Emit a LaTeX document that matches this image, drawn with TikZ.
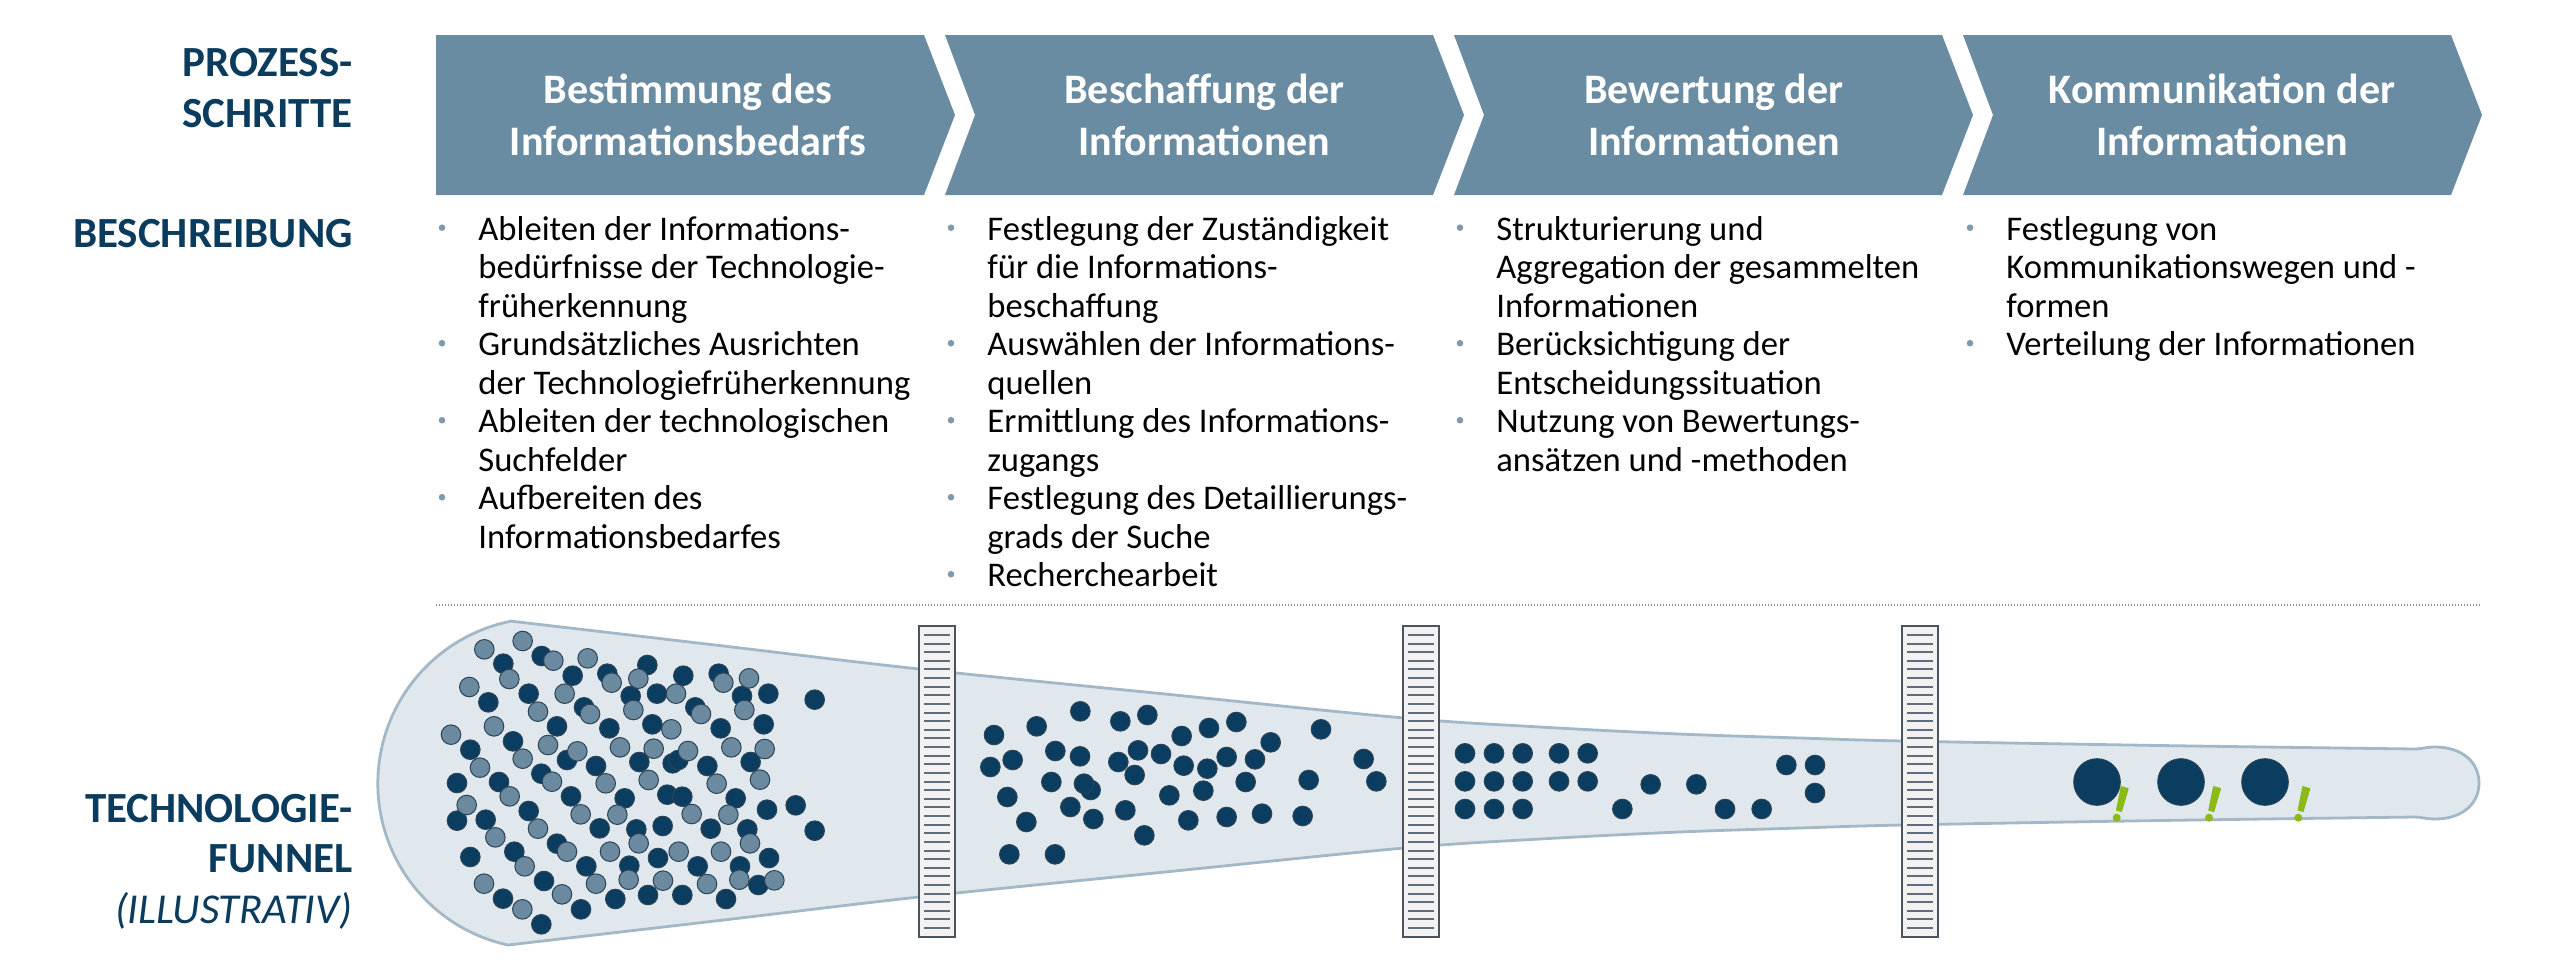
\documentclass[tikz,border=0pt]{standalone}
\usepackage{fontspec}
\setmainfont{Carlito}
\definecolor{arrowc}{HTML}{6A8CA2}
\definecolor{navy}{HTML}{0B3C5D}
\definecolor{bulc}{HTML}{7F99AD}
\definecolor{funfill}{HTML}{E1E8ED}
\definecolor{funline}{HTML}{A3B8C7}
\definecolor{dk}{HTML}{0A3D60}
\definecolor{lt}{HTML}{6B8AA0}
\definecolor{dotline}{HTML}{2B4457}
\definecolor{filtfill}{HTML}{F2F2F2}
\definecolor{filtline}{HTML}{4A5560}
\definecolor{tickc}{HTML}{5E6D79}
\definecolor{excl}{HTML}{8BBA14}
\definecolor{sepc}{HTML}{8C8C8C}
\begin{document}
\begin{tikzpicture}[x=0.5pt,y=-0.5pt,
  lbl/.style={font=\fontsize{21.5}{25}\selectfont\bfseries, text=navy, anchor=base east, inner sep=0},
  lbli/.style={font=\fontsize{21.3}{25}\selectfont\itshape, text=navy, anchor=base east, inner sep=0},
  hdr/.style={font=\fontsize{21}{26}\selectfont\bfseries, text=white, anchor=base, inner sep=0},
  btxt/.style={font=\fontsize{17.3}{19.25}\selectfont, text=black, anchor=base west, inner sep=0},
  arrowbox/.style={fill=arrowc},
  funnel/.style={fill=funfill, draw=funline, line width=1.4pt, line join=round},
  filterbox/.style={fill=filtfill, draw=filtline, line width=1pt},
  tick/.style={draw=tickc, line width=1pt},
  sep/.style={draw=sepc, line width=1.1pt, dash pattern=on 0.6pt off 0.9pt},
  dotdraw/.style={draw=dotline, line width=0.5pt}
]
\useasboundingbox (0,0) rectangle (2552,964);

% ---------- left labels ----------
\node[lbl] (l1a) at (353,76) {PROZESS-};
\node[lbl] (l1b) at (353,127) {SCHRITTE};
\node[lbl] (l2) at (353,247) {BESCHREIBUNG};
\node[lbl] (l3a) at (353,822) {TECHNOLOGIE-};
\node[lbl] (l3b) at (353,872) {FUNNEL};
\node[lbli] (l3c) at (353,923) {(ILLUSTRATIV)};

% ---------- process arrows ----------
\fill[arrowbox] (436,35) -- (924,35) -- (955,115) -- (924,195) -- (436,195) -- cycle;
\foreach \L in {945,1454,1963}{
  \fill[arrowbox] (\L,35) -- ({\L+488},35) -- ({\L+519},115) -- ({\L+488},195) -- (\L,195) -- ({\L+30},115) -- cycle;
}
\node[hdr] (h1a) at (688,103) {Bestimmung des};
\node[hdr] (h1b) at (688,155) {Informationsbedarfs};
\node[hdr] (h2a) at (1204.5,103) {Beschaffung der};
\node[hdr] (h2b) at (1204.5,155) {Informationen};
\node[hdr] (h3a) at (1714,103) {Bewertung der};
\node[hdr] (h3b) at (1714,155) {Informationen};
\node[hdr] (h4a) at (2222,103) {Kommunikation der};
\node[hdr] (h4b) at (2222,155) {Informationen};

% ---------- descriptions ----------
\foreach \t [count=\i from 0] in {Ableiten der Informations-, bedürfnisse der Technologie-, früherkennung, Grundsätzliches Ausrichten, der Technologiefrüherkennung, Ableiten der technologischen, Suchfelder, Aufbereiten des, Informationsbedarfes}
  \node[btxt] (ca\i) at (478,{240+38.5*\i}) {\t};
\foreach \t [count=\i from 0] in {Festlegung der Zuständigkeit, für die Informations-, beschaffung, Auswählen der Informations-, quellen, Ermittlung des Informations-, zugangs, Festlegung des Detaillierungs-, grads der Suche, Recherchearbeit}
  \node[btxt] (cb\i) at (987,{240+38.5*\i}) {\t};
\foreach \t [count=\i from 0] in {Strukturierung und, Aggregation der gesammelten, Informationen, Berücksichtigung der, Entscheidungssituation, Nutzung von Bewertungs-, ansätzen und -methoden}
  \node[btxt] (cc\i) at (1496,{240+38.5*\i}) {\t};
\foreach \t [count=\i from 0] in {Festlegung von, Kommunikationswegen und -, formen, Verteilung der Informationen}
  \node[btxt] (cd\i) at (2006,{240+38.5*\i}) {\t};
\foreach \i in {0,3,5,7} \fill[bulc] (442,{227.7+38.5*\i}) circle[radius=3.3];
\foreach \i in {0,3,5,7,9} \fill[bulc] (951,{227.7+38.5*\i}) circle[radius=3.3];
\foreach \i in {0,3,5} \fill[bulc] (1460,{227.7+38.5*\i}) circle[radius=3.3];
\foreach \i in {0,3} \fill[bulc] (1970,{227.7+38.5*\i}) circle[radius=3.3];

% ---------- separator ----------
\draw[sep] (436,605) -- (2479,605);

% ---------- funnel ----------
\filldraw[funnel] (509.8,621.4) -- plot[smooth,tension=0.55] coordinates {(510,621) (715,645) (919,669) (1160,693.5) (1404,718) (1540,727) (1679,734) (1800,738) (1903,741) (2160,745.5) (2415,749)}
  .. controls (2422,749) and (2425,747) .. (2435,747)
  .. controls (2462,747) and (2479,762) .. (2479,783)
  .. controls (2479,804) and (2462,819) .. (2435,819)
  .. controls (2425,819) and (2422,817) .. (2415,817)
  -- plot[smooth,tension=0.55] coordinates {(2415,817) (2160,820.5) (1903,825) (1800,828) (1679,832) (1540,839) (1404,848) (1160,872.5) (919,897) (715,921) (508,945)}
  arc[start angle=102.3, end angle=258.35, radius=165.4] -- cycle;

% ---------- cluster 1 ----------
\foreach \x/\y in {365/123, 250/146, 458/182, 562/176, 682/150, 790/182, 896/176, 205/262, 326/236, 632/243, 711/236, 966/243, 1045/236, 1184/254, 492/277, 826/277, 411/334, 568/340, 697/328, 902/340, 1031/328, 279/379, 151/404, 441/435, 758/445, 775/435, 528/453, 658/441, 862/453, 992/441, 364/476, 111/504, 237/501, 453/544, 614/550, 742/539, 787/545, 947/550, 326/588, 1041/584, 1127/571, 111/617, 197/614, 539/640, 649/643, 728/633, 872/641, 982/643, 1184/647, 411/686, 283/710, 151/726, 499/754, 628/752, 714/729, 833/754, 960/754, 1047/729, 372/798, 249/851, 586/852, 684/840, 787/840, 918/852, 483/883, 364/928}
  \filldraw[dotdraw, fill=dk] ({420+\x/3},{615+\y/3}) circle[radius=9.8];
\foreach \x/\y in {193/103, 308/78, 400/137, 268/192, 503/130, 575/203, 655/191, 910/203, 987/190, 148/216, 434/236, 768/236, 640/285, 973/285, 354/290, 510/297, 843/297, 222/334, 754/343, 93/359, 384/390, 600/397, 701/401, 934/397, 1034/402, 472/409, 804/408, 308/431, 180/458, 396/500, 557/505, 686/495, 890/506, 1020/494, 269/544, 140/570, 482/598, 592/599, 815/597, 925/599, 354/641, 656/685, 990/685, 226/667, 441/710, 314/754, 570/710, 776/710, 903/710, 626/794, 729/797, 958/794, 192/806, 528/806, 861/807, 426/838, 307/883}
  \filldraw[dotdraw, fill=lt] ({420+\x/3},{615+\y/3}) circle[radius=9.8];
\filldraw[dotdraw, fill=dk] ({420+1015/3},{615+810/3}) circle[radius=9.8];
\filldraw[dotdraw, fill=lt] ({420+1063/3},{615+796/3}) circle[radius=9.8];

% ---------- cluster 2 ----------
\foreach \x/\y in {117/165, 245/139, 376/94, 496/124, 577/105, 680/168, 762/144, 844/126, 947/187, 1098/148, 106/261, 173/240, 301/213, 375/229, 490/246, 549/211, 618/222, 686/257, 757/266, 815/231, 900/238, 1226/237, 157/351, 289/306, 407/330, 387/311, 539/285, 643/346, 745/332, 872/306, 1061/300, 1264/304, 214/426, 346/381, 415/417, 511/391, 700/421, 815/411, 921/401, 1043/408, 568/466, 163/523, 300/523}
  \filldraw[dotdraw, fill=dk] ({955+\x/3},{680+\y/3}) circle[radius=9.8];

% ---------- cluster 3 ----------
\foreach \x/\y in {75/100, 162/100, 248/100, 357/100, 443/100, 75/184, 162/184, 248/184, 357/184, 443/184, 75/267, 162/267, 248/267, 632/193, 769/193, 547/267, 855/267, 965/267, 1039/135, 1125/135, 1125/219}
  \filldraw[dotdraw, fill=dk] ({1440+\x/3},{720+\y/3}) circle[radius=9.8];

% ---------- filters ----------
\foreach \fx in {919,1403,1902}{
  \filldraw[filterbox] (\fx,626) rectangle ({\fx+36},937);
  \foreach \k in {0,...,34}
    \draw[tick] ({\fx+5},{635+\k*8.62}) -- ({\fx+31},{635+\k*8.62});
}

% ---------- results ----------
\foreach \bx in {2097,2181,2265}
  \filldraw[dotdraw, fill=dk] (\bx,782) circle[radius=23.3];
\foreach \tx in {2124.7,2217,2306.3}{
  \filldraw[fill=excl, draw=excl, line width=0.6pt, line join=round]
    ({\tx-3.4},786.7) -- ({\tx+3.4},788.7) -- ({\tx-3.3},811.4) -- ({\tx-8.1},810) -- cycle;
  \fill[excl] ({\tx-8},817.7) circle[radius=4];
}
\end{tikzpicture}
\end{document}
